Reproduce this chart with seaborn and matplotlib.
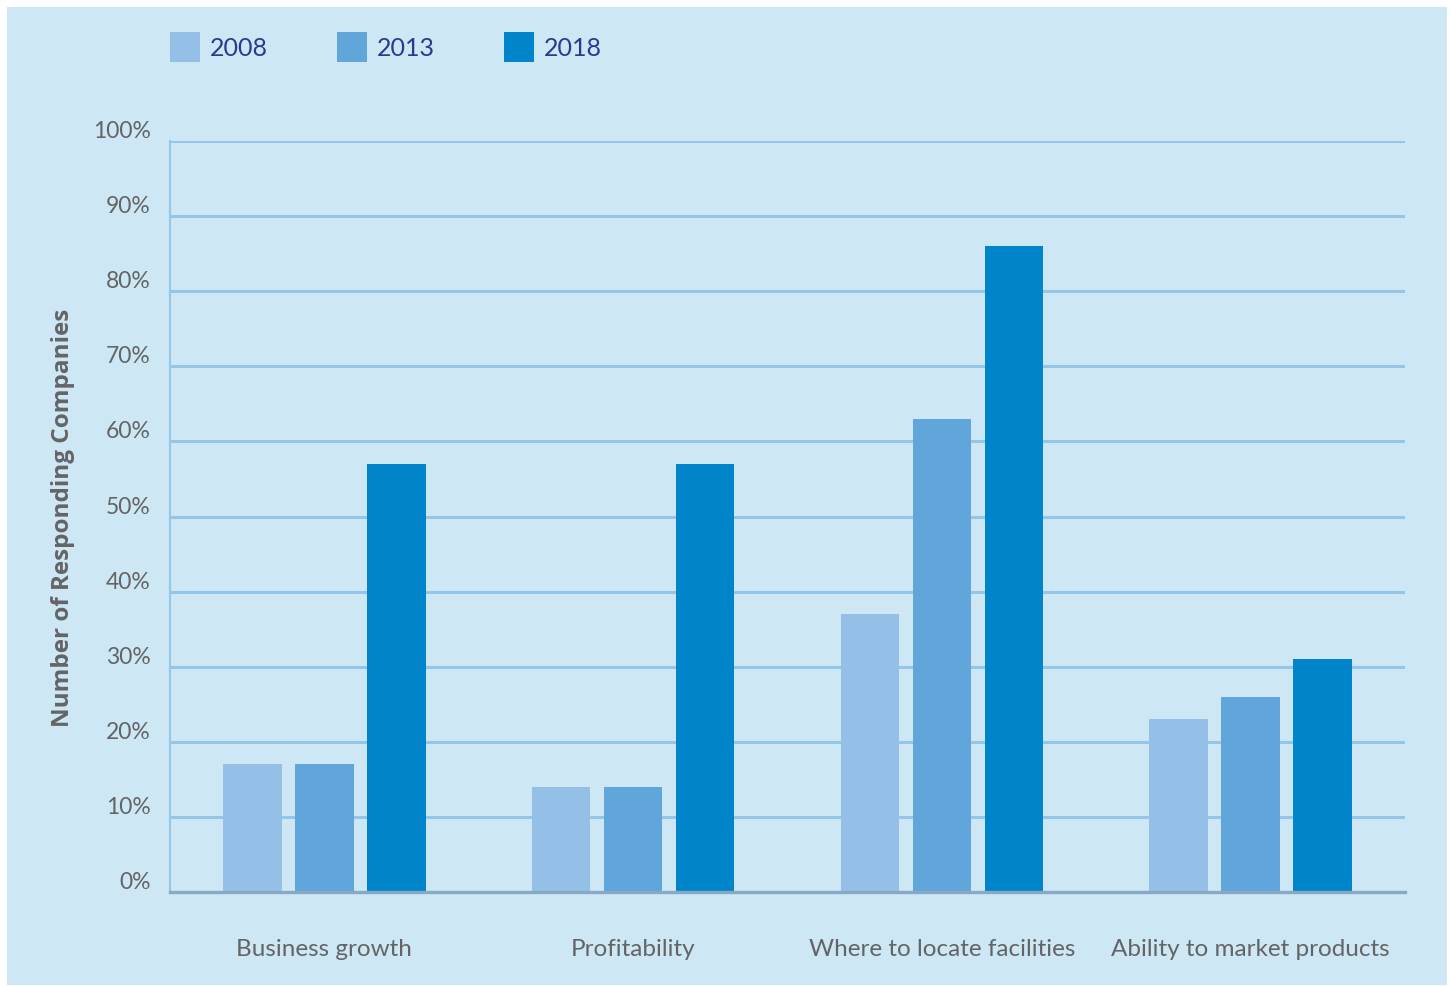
"""
Grouped bar chart: share of responding companies by decision area, 2008 / 2013 / 2018.
"""

import pandas as pd
import seaborn as sns
from matplotlib import pyplot as plt
from matplotlib.patches import Rectangle

categories = [
    "Business growth",
    "Profitability",
    "Where to locate facilities",
    "Ability to market products",
]
years = ["2008", "2013", "2018"]
values_2008 = [17, 14, 37, 23]
values_2013 = [17, 14, 63, 26]
values_2018 = [57, 57, 86, 31]
yticks = [0, 10, 20, 30, 40, 50, 60, 70, 80, 90, 100]
ytick_labels = [f"{v}%" for v in yticks]

if __name__ == "__main__":
    panel = "#cde8f4"
    grid_col = "#95c6e8"
    text_grey = "#636466"
    legend_blue = "#2b3990"
    palette = ["#94bfe6", "#60a6da", "#0085cb"]

    sns.set_theme(style="white")
    plt.rcParams["font.family"] = ["Lato", "DejaVu Sans"]

    df = pd.DataFrame(
        {
            "Category": categories * 3,
            "Year": [y for y in years for _ in categories],
            "Share": values_2008 + values_2013 + values_2018,
        }
    )

    fig = plt.figure(figsize=(14.5, 9.87), dpi=100, facecolor="white")
    W, H = 1450, 987
    # light blue panel with a thin white margin
    fig.patches.append(
        Rectangle(
            (7 / W, 1 - 986 / H),
            (1447 - 7) / W,
            (986 - 8) / H,
            transform=fig.transFigure,
            facecolor=panel,
            edgecolor="none",
            zorder=-10,
        )
    )
    ax = fig.add_axes([170 / W, 1 - 893 / H, (1405 - 170) / W, (893 - 142) / H])
    ax.set_facecolor(panel)

    sns.barplot(
        data=df,
        x="Category",
        y="Share",
        hue="Year",
        hue_order=years,
        palette=palette,
        saturation=1,
        width=0.7,
        gap=0.19,
        linewidth=0,
        ax=ax,
        zorder=3,
    )

    ax.set_xlim(-0.5, 3.5)
    ax.set_ylim(0, 100)
    ax.set_yticks(yticks)
    ax.set_yticklabels(ytick_labels, va="bottom")
    for y in yticks[1:]:
        ax.axhline(y, color=grid_col, lw=2.2, zorder=1)
    ax.grid(False)

    for side in ["top", "right"]:
        ax.spines[side].set_visible(False)
    ax.spines["left"].set_color(grid_col)
    ax.spines["left"].set_linewidth(1.5)
    ax.spines["bottom"].set_color("#87a9c6")
    ax.spines["bottom"].set_linewidth(2.4)
    ax.spines["bottom"].set_zorder(4)

    ax.tick_params(axis="y", length=0, pad=14, labelsize=16.5, labelcolor=text_grey)
    ax.tick_params(axis="x", length=0, pad=33, labelsize=17.5, labelcolor=text_grey)
    ax.set_xlabel("")
    ax.set_ylabel(
        "Number of Responding Companies",
        fontsize=17.5,
        fontweight="bold",
        family=["Open Sans", "DejaVu Sans"],
        color=text_grey,
        labelpad=13,
    )

    handles, labels = ax.get_legend_handles_labels()
    ax.legend(
        handles,
        labels,
        ncol=3,
        loc="upper left",
        bbox_to_anchor=(170 / W, 1 - 33 / H),
        bbox_transform=fig.transFigure,
        frameon=False,
        fontsize=18,
        labelcolor=legend_blue,
        handlelength=1.2,
        handleheight=1.45,
        handletextpad=0.4,
        columnspacing=2.75,
        borderpad=0,
        borderaxespad=0,
    )

    plt.savefig("out.png", dpi=100, facecolor="white")
    plt.close()
